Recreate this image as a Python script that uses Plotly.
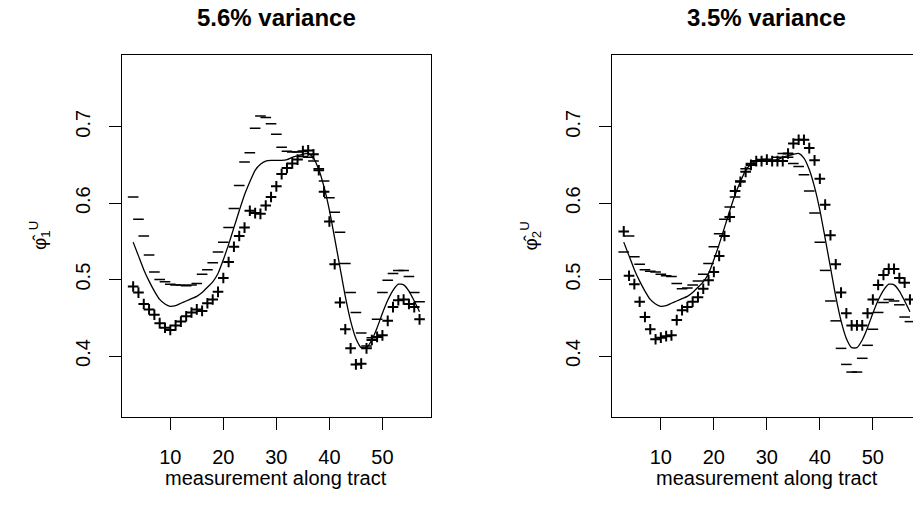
import plotly.graph_objects as go

# ---------------- data ----------------
positions = list(range(3, 58))

mean_curve = [0.549, 0.531, 0.513, 0.498, 0.485, 0.474, 0.468, 0.465, 0.466, 0.469,
              0.472, 0.475, 0.478, 0.483, 0.490, 0.497, 0.508, 0.526, 0.546, 0.568,
              0.590, 0.611, 0.628, 0.643, 0.651, 0.655, 0.656, 0.656, 0.656, 0.657,
              0.660, 0.662, 0.664, 0.665, 0.659, 0.644, 0.621, 0.591, 0.554, 0.516,
              0.478, 0.446, 0.423, 0.411, 0.411, 0.421, 0.437, 0.456, 0.473, 0.486,
              0.494, 0.493, 0.485, 0.472, 0.458]

pc1_plus = [0.491, 0.483, 0.468, 0.461, 0.454, 0.443, 0.437, 0.434, 0.440, 0.445,
            0.452, 0.457, 0.461, 0.459, 0.469, 0.474, 0.484, 0.502, 0.523, 0.543,
            0.557, 0.568, 0.590, 0.587, 0.586, 0.597, 0.608, 0.622, 0.638, 0.646,
            0.652, 0.657, 0.668, 0.669, 0.664, 0.643, 0.615, 0.576, 0.520, 0.470,
            0.435, 0.410, 0.389, 0.390, 0.410, 0.421, 0.425, 0.427, 0.446, 0.464,
            0.473, 0.474, 0.468, 0.464, 0.448]

pc1_minus = [0.608, 0.579, 0.557, 0.532, 0.510, 0.500, 0.497, 0.494, 0.493, 0.493,
             0.492, 0.493, 0.495, 0.507, 0.513, 0.522, 0.536, 0.549, 0.568, 0.593,
             0.623, 0.654, 0.666, 0.698, 0.714, 0.712, 0.704, 0.690, 0.673, 0.668,
             0.667, 0.667, 0.661, 0.660, 0.655, 0.645, 0.629, 0.607, 0.588, 0.562,
             0.521, 0.483, 0.457, 0.430, 0.413, 0.424, 0.448, 0.483, 0.499, 0.508,
             0.512, 0.512, 0.504, 0.483, 0.471]

pc2_plus = [0.563, 0.505, 0.494, 0.471, 0.451, 0.435, 0.422, 0.424, 0.426, 0.427,
            0.447, 0.460, 0.464, 0.471, 0.477, 0.488, 0.499, 0.510, 0.531, 0.557,
            0.582, 0.616, 0.628, 0.641, 0.650, 0.655, 0.655, 0.657, 0.655, 0.655,
            0.655, 0.665, 0.678, 0.683, 0.683, 0.672, 0.656, 0.632, 0.598, 0.558,
            0.520, 0.483, 0.456, 0.440, 0.440, 0.440, 0.456, 0.474, 0.493, 0.506,
            0.514, 0.514, 0.502, 0.496, 0.474]

pc2_minus = [0.536, 0.557, 0.530, 0.520, 0.513, 0.511, 0.510, 0.507, 0.505, 0.504,
             0.495, 0.488, 0.489, 0.493, 0.498, 0.507, 0.521, 0.543, 0.560, 0.579,
             0.595, 0.608, 0.629, 0.645, 0.652, 0.655, 0.657, 0.655, 0.656, 0.660,
             0.665, 0.660, 0.652, 0.648, 0.637, 0.616, 0.587, 0.549, 0.512, 0.472,
             0.446, 0.410, 0.389, 0.379, 0.379, 0.397, 0.414, 0.435, 0.457, 0.470,
             0.474, 0.472, 0.467, 0.451, 0.445]

panel_titles = ["5.6% variance", "3.5% variance"]
x_label = "measurement along tract"
y_labels = ["φ̂<sub>1</sub><sup>U</sup>", "φ̂<sub>2</sub><sup>U</sup>"]
x_ticks = [10, 20, 30, 40, 50]
y_ticks = [0.4, 0.5, 0.6, 0.7]
y_ticktext = ["0.4", "0.5", "0.6", "0.7"]

# ---------------- figure ----------------
W, H = 913, 525
FONT = "Liberation Sans, Arial, Helvetica, sans-serif"

fig = go.Figure()

panels = [
    ("x", "y", pc1_plus, pc1_minus),
    ("x2", "y2", pc2_plus, pc2_minus),
]
for xa, ya, plus, minus in panels:
    fig.add_trace(go.Scatter(x=positions, y=minus, mode="markers", xaxis=xa, yaxis=ya,
                             marker=dict(symbol="line-ew", size=7.6, color="black",
                                         line=dict(color="black", width=1.5)),
                             showlegend=False, hoverinfo="skip"))
    fig.add_trace(go.Scatter(x=positions, y=plus, mode="markers", xaxis=xa, yaxis=ya,
                             marker=dict(symbol="cross-thin", size=7.6, color="black",
                                         line=dict(color="black", width=2)),
                             showlegend=False, hoverinfo="skip"))
    fig.add_trace(go.Scatter(x=positions, y=mean_curve, mode="lines", xaxis=xa, yaxis=ya,
                             line=dict(color="black", width=1.3, shape="spline", smoothing=0.6),
                             showlegend=False, hoverinfo="skip"))

left_dom = [121.7 / W, 431.0 / W]
right_dom = [612.3 / W, 1.0]
y_dom = [1 - 417.0 / H, 1 - 54.5 / H]
x_range_left = [0.84, 59.16]
x_range_right = [0.84, 0.84 + (W - 612.3) / 5.30]
y_range = [0.3202, 0.7945]

common_x = dict(tickvals=x_ticks, ticks="outside", ticklen=12, tickwidth=1,
                tickcolor="black", showline=True, linecolor="black", linewidth=1,
                showgrid=False, zeroline=False, tickfont=dict(size=20, color="black"),
                ticklabelstandoff=10)
common_y = dict(tickvals=y_ticks, ticktext=y_ticktext, ticks="outside", ticklen=12,
                tickwidth=1, tickcolor="black", showline=True, linecolor="black",
                linewidth=1, showgrid=False, zeroline=False, tickangle=-90,
                tickfont=dict(size=20, color="black"), range=y_range, domain=y_dom,
                ticklabelstandoff=11)

fig.update_layout(
    width=W, height=H,
    margin=dict(l=0, r=0, t=0, b=0),
    paper_bgcolor="white", plot_bgcolor="white",
    font=dict(family=FONT, color="black", size=20),
    xaxis=dict(domain=left_dom, range=x_range_left, mirror=True, anchor="y", **common_x),
    yaxis=dict(anchor="x", mirror=True, **common_y),
    xaxis2=dict(domain=right_dom, range=x_range_right, mirror=True, anchor="y2", **common_x),
    yaxis2=dict(anchor="x2", mirror=False, **common_y),
)

centers = [(left_dom[0] + left_dom[1]) / 2, (612.3 + 921.3) / 2 / W]
label_x = [39.0 / W, 529.6 / W]
for i in range(2):
    fig.add_annotation(text="<b>" + panel_titles[i] + "</b>", x=centers[i], y=1 - 17.0 / H,
                       xref="paper", yref="paper", showarrow=False,
                       xanchor="center", yanchor="middle", font=dict(size=24))
    fig.add_annotation(text=x_label, x=centers[i], y=1 - 478.0 / H,
                       xref="paper", yref="paper", showarrow=False,
                       xanchor="center", yanchor="middle", font=dict(size=20))
    fig.add_annotation(text=y_labels[i], x=label_x[i], y=1 - 236.0 / H,
                       xref="paper", yref="paper", showarrow=False, textangle=-90,
                       xanchor="center", yanchor="middle", font=dict(size=19))

fig.write_html("out.html", config={"displayModeBar": False},
               post_script="document.body.style.margin='0';document.body.style.overflow='hidden';")
